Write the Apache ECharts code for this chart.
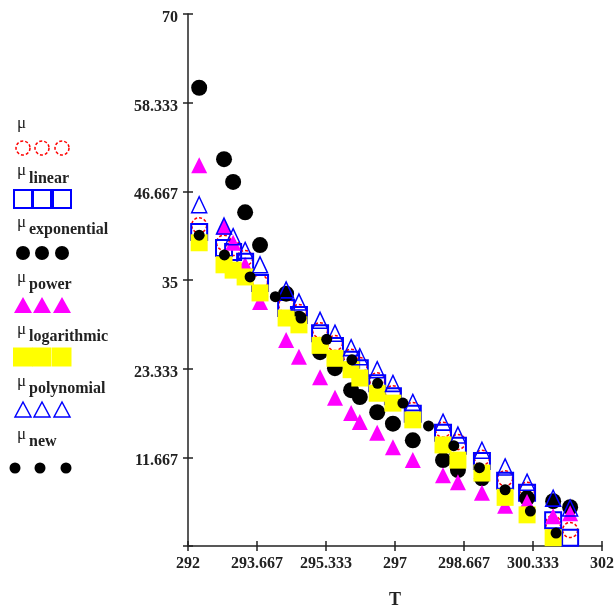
<!DOCTYPE html>
<html><head><meta charset="utf-8">
<script src="https://cdn.jsdelivr.net/npm/echarts@6/dist/echarts.min.js"></script>
<style>html,body{margin:0;padding:0;background:#fff}#c{width:616px;height:610px}</style>
</head><body><div id="c"></div>
<script>
// tick labels
const xTicks = [292, 293.667, 295.333, 297, 298.667, 300.333, 302];
const yTicks = [0, 11.667, 23.333, 35, 46.667, 58.333, 70];
// temperatures of the model columns
const T = [292.27, 292.87, 293.09, 293.38, 293.74, 294.37, 294.68, 295.19, 295.55, 295.94, 296.15, 296.57, 296.95, 297.43, 298.16, 298.52, 299.10, 299.66, 300.19, 300.82, 301.23];
const muMeasured = [42.2, 39.9, 39.2, 37.9, 34.7, 31.7, 30.8, 28.4, 26.7, 24.9, 23.8, 21.8, 20.1, 17.9, 15.3, 13.7, 11.6, 8.9, 7.4, 3.0, 2.1];
const muLinear = [41.3, 39.2, 38.7, 37.4, 34.6, 31.3, 30.4, 28.0, 26.3, 24.5, 23.4, 21.4, 19.7, 17.4, 14.9, 13.2, 11.2, 8.6, 7.0, 3.4, 1.1];
const muExponential = [60.3, 50.9, 47.9, 43.9, 39.6, 33.2, 29.9, 25.5, 23.4, 20.5, 19.6, 17.6, 16.1, 13.9, 11.3, 10.0, 8.9, 6.7, 6.3, 5.9, 5.1];
const muPower = [50.1, 42.0, 39.9, 37.0, 32.1, 27.1, 24.9, 22.2, 19.5, 17.5, 16.3, 14.9, 13.0, 11.3, 9.3, 8.4, 7.0, 5.3, 5.8, 3.9, 4.3];
const muLogarithmic = [39.9, 37.0, 36.3, 35.4, 33.3, 30.0, 29.1, 26.4, 24.7, 23.2, 22.1, 20.1, 18.8, 16.6, 13.3, 11.3, 9.6, 6.4, 4.1, 1.1, null];
const muPolynomial = [44.9, 42.1, 40.7, 38.9, 37.0, 33.7, 32.1, 29.7, 28.0, 26.1, 24.9, 23.2, 21.4, 18.9, 16.3, 14.6, 12.6, 10.4, 8.4, 6.3, 5.0];
// "new" series has its own temperatures
const Tnew = [292.27, 292.88, 293.50, 294.11, 294.73, 295.35, 295.96, 296.58, 297.19, 297.81, 298.42, 299.04, 299.66, 300.27, 300.89];
const muNew = [40.9, 38.3, 35.4, 32.8, 30.0, 27.2, 24.5, 21.4, 18.8, 15.8, 13.2, 10.3, 7.4, 4.6, 1.7];

const legendNames = ['', 'linear', 'exponential', 'power', 'logarithmic', 'polynomial', 'new'];

function pairs(xs, ys) {
  const out = [];
  xs.forEach((x, i) => { if (ys[i] !== null && ys[i] !== undefined) out.push([x, ys[i]]); });
  return out;
}

const RED = '#ff0000', BLUE = '#0000ff', MAG = '#ff00ff', YEL = '#ffff00', BLK = '#000000';
const FONT = '"Liberation Serif", "DejaVu Serif", serif';

const chart = echarts.init(document.getElementById('c'));

// ---- legend drawn as graphics ----
const legendLayout = [
  {muY: 127, subY: 0, symY: 148},
  {muY: 174, subY: 179, symY: 199},
  {muY: 226, subY: 230, symY: 253},
  {muY: 281, subY: 285, symY: 305},
  {muY: 333, subY: 337, symY: 357},
  {muY: 385, subY: 389, symY: 410},
  {muY: 438, subY: 442, symY: 468}
];
const graphics = [];
legendLayout.forEach((L, k) => {
  graphics.push({type: 'text', x: 17, y: L.muY - 3, style: {text: 'μ', font: '17px ' + FONT, fill: '#222', verticalAlign: 'middle'}});
  if (legendNames[k]) {
    graphics.push({type: 'text', x: 29, y: L.subY, style: {text: legendNames[k], font: 'bold 16px ' + FONT, fill: '#222', verticalAlign: 'middle'}});
  }
  const xs = k === 6 ? [15, 40, 66] : [23, 42, 62];
  xs.forEach(cx => {
    const cy = L.symY;
    if (k === 0) graphics.push({type: 'circle', shape: {cx, cy, r: 7}, style: {fill: 'none', stroke: RED, lineWidth: 1.5, lineDash: [3, 2]}});
    if (k === 1) graphics.push({type: 'rect', shape: {x: cx - 9, y: cy - 9, width: 18, height: 18}, style: {fill: 'none', stroke: BLUE, lineWidth: 2}});
    if (k === 2) graphics.push({type: 'circle', shape: {cx, cy, r: 7}, style: {fill: BLK}});
    if (k === 3) graphics.push({type: 'polygon', shape: {points: [[cx, cy - 8], [cx + 9, cy + 8], [cx - 9, cy + 8]]}, style: {fill: MAG}});
    if (k === 4) graphics.push({type: 'rect', shape: {x: cx - 10, y: cy - 9.5, width: 19.5, height: 19}, style: {fill: YEL}});
    if (k === 5) graphics.push({type: 'polygon', shape: {points: [[cx, cy - 8], [cx + 8, cy + 7], [cx - 8, cy + 7]]}, style: {fill: 'none', stroke: BLUE, lineWidth: 1.5}});
    if (k === 6) graphics.push({type: 'circle', shape: {cx, cy, r: 5.5}, style: {fill: BLK}});
  });
});

const axisCommon = {
  axisLine: {show: true, lineStyle: {color: '#222', width: 1.5}},
  splitLine: {show: false}
};

const labelFmt = v => (Math.abs(v) < 1e-9 ? '' : String(v));

const option = {
  backgroundColor: '#fff',
  animation: false,
  grid: {left: 188, right: 14, top: 14, bottom: 64, containLabel: false, outerBoundsMode: 'none'},
  graphic: graphics,
  xAxis: [
    Object.assign({}, axisCommon, {
      type: 'value', min: 292, max: 302,
      name: 'T', nameLocation: 'middle', nameGap: 45,
      nameTextStyle: {fontFamily: FONT, fontWeight: 'bold', fontSize: 18, color: '#222'},
      axisTick: {show: true, inside: false, length: 5, lineStyle: {color: '#222', width: 1.5}, customValues: xTicks},
      axisLabel: {show: true, margin: 10, fontFamily: FONT, fontWeight: 'bold', fontSize: 16, color: '#222', customValues: xTicks, formatter: labelFmt}
    }),
    {
      type: 'value', min: 292, max: 302, position: 'bottom',
      axisLine: {show: false}, splitLine: {show: false}, axisLabel: {show: false},
      axisTick: {show: true, inside: true, length: 5, lineStyle: {color: '#222', width: 1.5}, customValues: xTicks}
    }
  ],
  yAxis: [
    Object.assign({}, axisCommon, {
      type: 'value', min: 0, max: 70,
      axisTick: {show: true, inside: false, length: 5, lineStyle: {color: '#222', width: 1.5}, customValues: yTicks},
      axisLabel: {show: true, margin: 10, verticalAlign: 'top', lineHeight: 8, fontFamily: FONT, fontWeight: 'bold', fontSize: 16, color: '#222', customValues: yTicks, formatter: labelFmt}
    }),
    {
      type: 'value', min: 0, max: 70, position: 'left',
      axisLine: {show: false}, splitLine: {show: false}, axisLabel: {show: false},
      axisTick: {show: true, inside: true, length: 5, lineStyle: {color: '#222', width: 1.5}, customValues: yTicks}
    }
  ],
  series: [
    {name: 'μ', type: 'scatter', data: pairs(T, muMeasured), symbol: 'circle', symbolSize: 15,
     itemStyle: {color: 'rgba(0,0,0,0)', borderColor: RED, borderWidth: 1.5, borderType: [3, 2], opacity: 1}},
    {name: 'μlinear', type: 'scatter', data: pairs(T, muLinear), symbol: 'rect', symbolSize: 16,
     itemStyle: {color: 'rgba(0,0,0,0)', borderColor: BLUE, borderWidth: 2, opacity: 1}},
    {name: 'μexponential', type: 'scatter', data: pairs(T, muExponential), symbol: 'circle', symbolSize: 16,
     itemStyle: {color: BLK, opacity: 1}},
    {name: 'μpower', type: 'scatter', data: pairs(T, muPower), symbol: 'triangle', symbolSize: [16, 16],
     itemStyle: {color: MAG, opacity: 1}},
    {name: 'μlogarithmic', type: 'scatter', data: pairs(T, muLogarithmic), symbol: 'rect', symbolSize: 17,
     itemStyle: {color: YEL, opacity: 1}},
    {name: 'μpolynomial', type: 'scatter', data: pairs(T, muPolynomial), symbol: 'triangle', symbolSize: [15, 16],
     itemStyle: {color: 'rgba(0,0,0,0)', borderColor: BLUE, borderWidth: 1.5, opacity: 1}},
    {name: 'μnew', type: 'scatter', data: pairs(Tnew, muNew), symbol: 'circle', symbolSize: 11,
     itemStyle: {color: BLK, opacity: 1}}
  ]
};
chart.setOption(option);
</script>
</body></html>
